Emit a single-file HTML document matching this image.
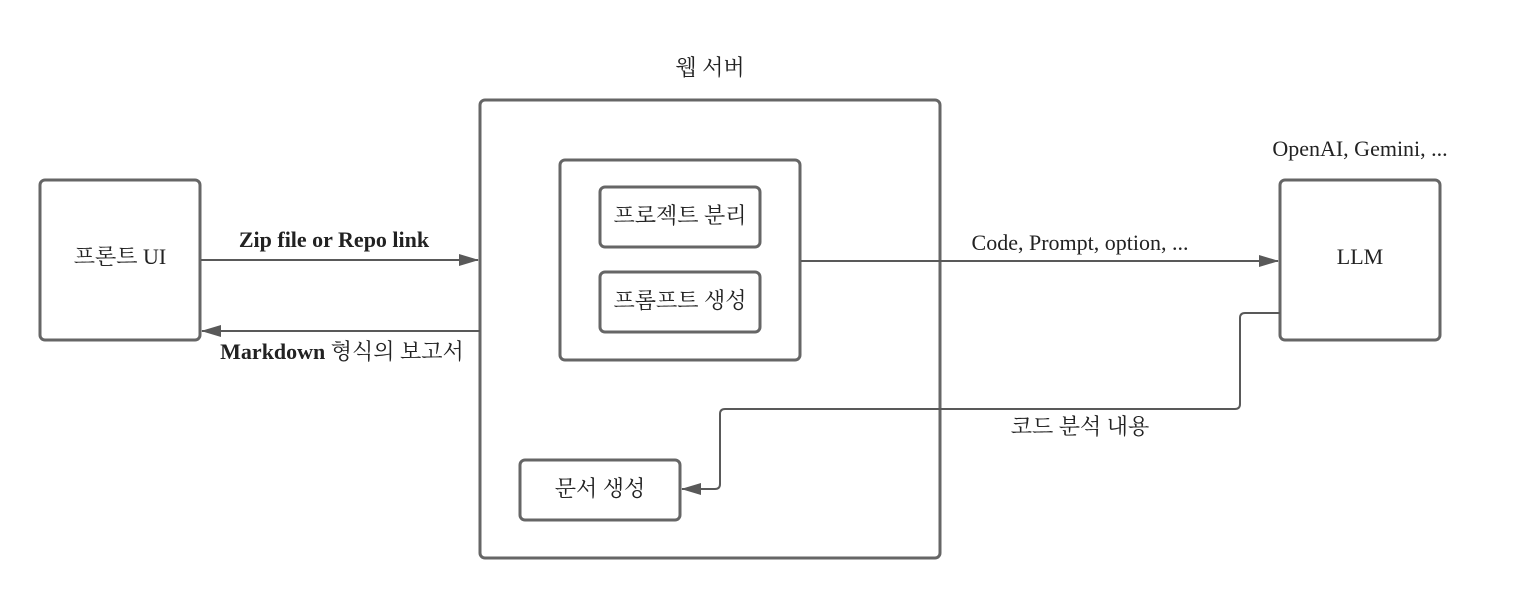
<!DOCTYPE html>
<html><head><meta charset="utf-8"><style>
html,body{margin:0;padding:0;background:#fff;width:1520px;height:600px;overflow:hidden}
text{font-family:"Liberation Serif","Noto Serif CJK SC",serif;fill:#222}
</style></head><body>
<svg width="1520" height="600" xmlns="http://www.w3.org/2000/svg">
<defs>
<marker id="b" markerWidth="20" markerHeight="12" refX="19" refY="6" orient="auto" markerUnits="userSpaceOnUse"><path d="M0,0 L20,6 L0,12z" fill="#595959"/></marker></defs>
<g fill="none" stroke="#666" stroke-width="3">
<rect x="40" y="180" width="160" height="160" rx="5"/>
<rect x="480" y="100" width="460" height="458" rx="5"/>
<rect x="560" y="160" width="240" height="200" rx="5"/>
<rect x="600" y="187" width="160" height="60" rx="5"/>
<rect x="600" y="272" width="160" height="60" rx="5"/>
<rect x="520" y="460" width="160" height="60" rx="5"/>
<rect x="1280" y="180" width="160" height="160" rx="5"/>
</g>
<g fill="none" stroke="#595959" stroke-width="2">
<path d="M201 260 H478" marker-end="url(#b)"/>
<path d="M480 331 H202" marker-end="url(#b)"/>
<path d="M801 261 H1278" marker-end="url(#b)"/>
<path d="M1280 313 H1245 Q1240 313 1240 318 V404 Q1240 409 1235 409 H725 Q720 409 720 414 V484 Q720 489 715 489 H682" marker-end="url(#b)"/>
</g>
<g font-size="22" text-anchor="middle">
<text x="710" y="75">웹 서버</text>
<text x="1360" y="156">OpenAI, Gemini, ...</text>
<text x="120" y="264">프론트 UI</text>
<text x="680" y="223">프로젝트 분리</text>
<text x="680" y="308">프롬프트 생성</text>
<text x="600" y="496">문서 생성</text>
<text x="1360" y="264">LLM</text>
<text x="1080" y="250">Code, Prompt, option, ...</text>
<text x="1080" y="434">코드 분석 내용</text>
<text x="334" y="247" font-weight="bold">Zip file or Repo link</text>
<text x="342" y="359" font-weight="bold">Markdown <tspan font-weight="normal">형식의 보고서</tspan></text>
</g>
</svg>
</body></html>
